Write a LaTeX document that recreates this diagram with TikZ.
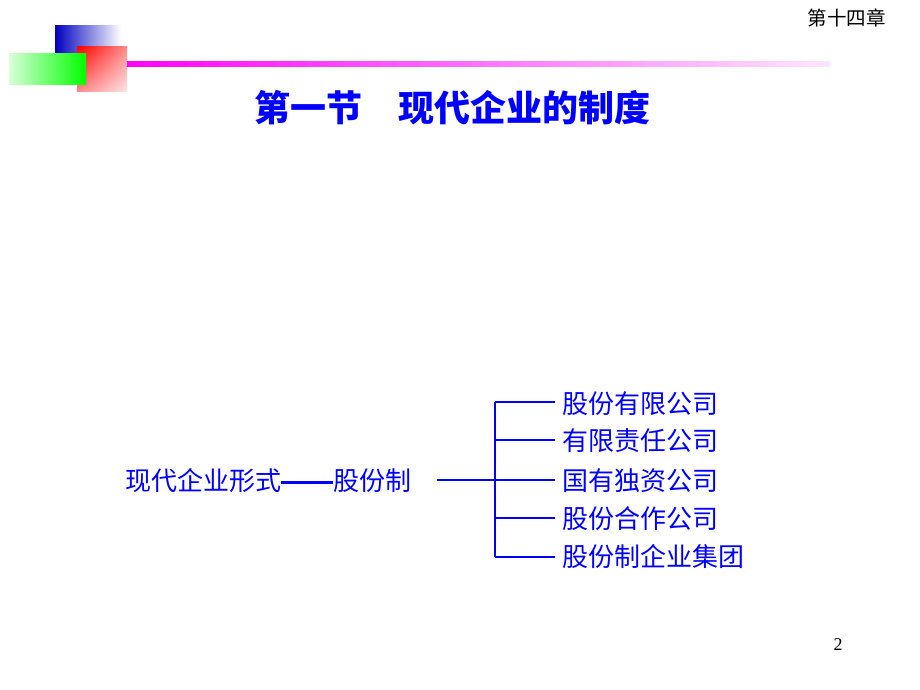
\documentclass[tikz,border=0pt]{standalone}
\usepackage{fontspec}
\usetikzlibrary{shadings}
\setmainfont{Liberation Serif}
\newfontfamily\cjk{Noto Sans CJK SC}
\begin{document}
\begin{tikzpicture}[x=1pt,y=-1pt,
  item/.style={anchor=west,inner sep=0pt,text=blue,font=\cjk\fontsize{26}{30}\selectfont},
  branch/.style={draw=blue,color=blue,line width=1.4pt}]
\useasboundingbox (0,0) rectangle (920,690);
\fill[white] (0,0) rectangle (920,690);
% decoration
\shade[left color=blue!75!black,right color=white] (55,26) rectangle (121,55);
\shade[upper left=red,upper right=red!45,lower left=red!45,lower right=red!10] (77,47) rectangle (127,92);
\shade[left color=green!15,right color=green] (9,54) rectangle (86,85);
\shade[left color=magenta,middle color=magenta!85,right color=magenta!10] (127,62) rectangle (830,67);
% header and footer
\node[anchor=east,inner sep=0pt,font=\cjk\fontsize{19.5}{22}\selectfont] (hdr) at (886,18) {第十四章};
\node[inner sep=0pt,font=\fontsize{18}{20}\selectfont] (pg) at (838,645) {2};
% title
\node[inner sep=0pt,text=blue,font=\cjk\bfseries\fontsize{36}{40}\selectfont] (title) at (452,108) {第一节\hspace{1em}现代企业的制度};
% left text
\node[item] (src) at (125,481) {现代企业形式\rule[0.28em]{52pt}{2.6pt}股份制};
% fork
\coordinate (s) at (437,480);
\coordinate (j) at (495,480);
\node[item] (b1) at (562,404) {股份有限公司};
\node[item] (b2) at (562,441) {有限责任公司};
\node[item] (b3) at (562,481) {国有独资公司};
\node[item] (b4) at (562,519) {股份合作公司};
\node[item] (b5) at (562,557) {股份制企业集团};
\coordinate (t1) at (495,402);
\coordinate (t5) at (495,557);
\draw[branch] (s) -- (j);
\draw[branch] (t1) -- (t5);
\draw[branch] (t1) -- ([xshift=-7pt]b1.west |- t1);
\draw[branch] (495,440) -- ([xshift=-7pt]b2.west |- 0,440);
\draw[branch] (j) -- ([xshift=-7pt]b3.west |- j);
\draw[branch] (495,518) -- ([xshift=-7pt]b4.west |- 0,518);
\draw[branch] (t5) -- ([xshift=-7pt]b5.west |- t5);
\end{tikzpicture}
\end{document}
